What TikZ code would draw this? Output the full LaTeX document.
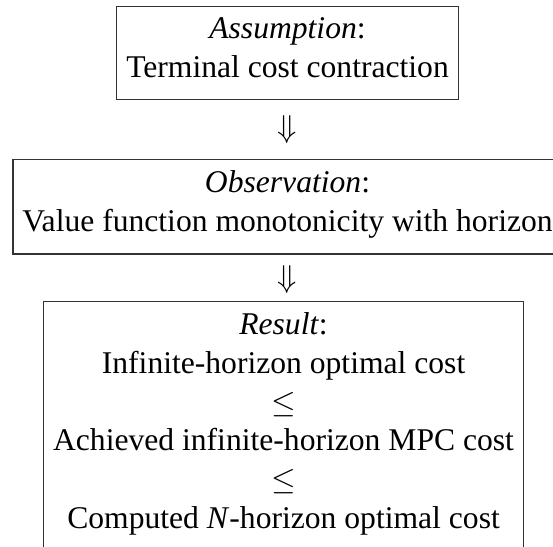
\documentclass[tikz,border=0pt]{standalone}
\usepackage{fontspec}
\setmainfont{Liberation Serif}
\usepackage{tikz}
\usetikzlibrary{positioning}
\tikzset{
    stmt/.style={rectangle, draw=black!80, line width=0.4pt, text centered, align=center, inner xsep=3pt, inner ysep=3.5pt, font=\fontsize{10pt}{12.25pt}\selectfont, execute at begin node=\strut, execute at end node=\strut},
    implies/.style={inner sep=0pt, font=\fontsize{10pt}{12.25pt}\selectfont}
}
\begin{document}
\begin{tikzpicture}
    \clip (-3.197,0) rectangle (2.952,-6.072);

    % Assumption
    \node[stmt, anchor=north] (assume) at (0,-0.063) {%
        \textit{Assumption}:\\ Terminal cost contraction%
    };
    \node[implies] (arrA) at (0,-1.446) {$\Downarrow$};

    % Observation
    \node[stmt, anchor=north] (observe) at (0,-1.768) {%
        \textit{Observation}:\\ Value function monotonicity with horizon%
    };
    \node[implies] (arrB) at (0,-3.114) {$\Downarrow$};

    % Result
    \node[stmt, anchor=north] (result) at (-0.044,-3.347) {%
        \textit{Result}:\\ Infinite-horizon optimal cost\\ $\leq$\\
        Achieved infinite-horizon MPC cost\\ $\leq$\\
        Computed \textit{N}-horizon optimal cost%
    };
\end{tikzpicture}
\end{document}
